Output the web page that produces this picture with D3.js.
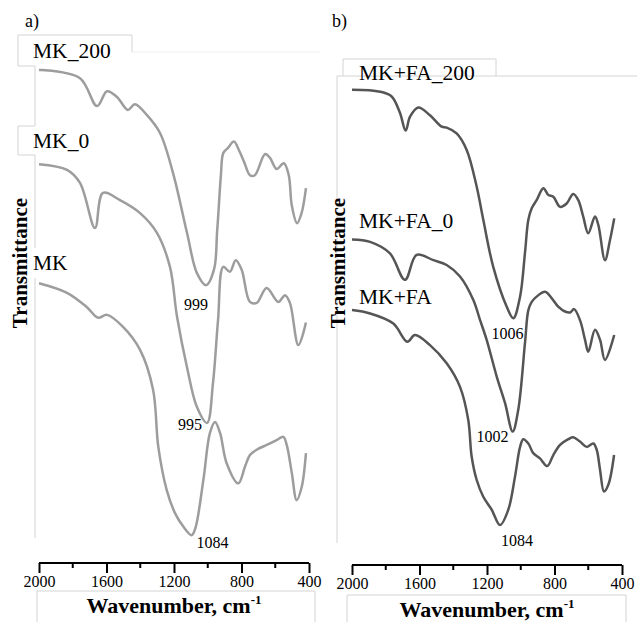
<!DOCTYPE html>
<html>
<head>
<meta charset="utf-8">
<script src="https://cdn.jsdelivr.net/npm/d3@7"></script>
<style>
  body { margin: 0; background: #fff; }
  svg { display: block; font-family: "Liberation Serif", "Times New Roman", serif; }
</style>
</head>
<body>
<svg id="chart" width="637" height="622"></svg>
<script>
'use strict'
// FTIR spectra, [wavenumber, transmittance (a.u.)]
var mk200 = [[2000,97.9],[1982,97.9],[1757,96.2],[1656,90.4],[1597,93.5],[1538,92.3],[1473,89.6],[1431,90.8],[1360,88.5],[1283,84.8],[1206,76.5],[1123,64.0],[1064,55.6],[1010,53.1],[962,56.5],[945,64.0],[937,68.1],[922,76.0],[908,80.6],[880,81.7],[845,83.0],[815,81.2],[785,78.8],[750,76.0],[721,76.0],[660,80.4],[631,79.6],[592,77.3],[549,78.5],[520,76.0],[502,69.7],[471,66.0],[444,68.1],[418,73.3]];
var mk0 = [[2000,78.3],[1834,77.1],[1757,74.4],[1668,65.0],[1621,72.3],[1520,70.8],[1401,68.1],[1301,64.0],[1224,56.9],[1182,46.5],[1123,36.0],[1064,27.7],[1004,24.4],[969,32.7],[939,45.8],[908,56.9],[869,55.9],[834,58.3],[799,56.3],[750,49.6],[710,49.4],[651,52.5],[582,49.6],[542,51.0],[513,49.4],[463,40.6],[418,45.3]];
var mk = [[2000,53.5],[1834,51.5],[1716,48.5],[1650,46.3],[1597,46.9],[1502,44.4],[1401,39.6],[1324,31.3],[1293,19.4],[1243,10.4],[1194,5.6],[1145,2.8],[1095,1.0],[1073,2.5],[1026,12.5],[987,22.3],[957,24.6],[927,22.3],[888,16.0],[819,11.8],[779,15.3],[750,17.7],[710,18.8],[651,19.8],[592,20.8],[552,21.5],[532,19.8],[502,14.0],[473,8.3],[443,11.1],[418,18.1]];

var mkfa200 = [[2000,93.8],[1834,93.4],[1765,92.4],[1716,89.0],[1682,85.3],[1656,88.2],[1607,90.1],[1538,88.5],[1468,86.1],[1439,85.9],[1380,84.7],[1321,81.3],[1261,73.6],[1222,66.7],[1163,56.9],[1083,48.6],[1044,46.2],[1004,50.7],[975,59.8],[955,66.7],[935,69.1],[906,70.8],[866,73.3],[837,71.9],[807,71.5],[767,69.4],[728,70.1],[689,72.1],[659,70.8],[630,67.4],[600,63.9],[560,67.4],[540,65.6],[501,58.3],[471,62.5],[446,67.0]];
var mkfa0 = [[2000,62.6],[1893,62.1],[1775,59.7],[1686,54.2],[1617,59.4],[1518,58.3],[1439,57.3],[1360,54.9],[1281,50.0],[1241,45.8],[1202,41.7],[1142,34.0],[1093,28.5],[1048,22.6],[1015,27.1],[975,41.0],[955,47.9],[935,49.6],[906,50.7],[856,51.7],[817,50.4],[778,48.6],[738,47.6],[708,47.4],[684,48.1],[649,45.8],[619,41.7],[600,39.2],[560,43.8],[530,41.7],[501,37.5],[446,42.7]];
var mkfa = [[2000,47.9],[1893,47.2],[1755,45.1],[1672,41.3],[1627,42.7],[1538,40.6],[1439,36.8],[1360,31.9],[1311,25.0],[1291,17.4],[1261,12.5],[1222,9.0],[1172,6.3],[1123,3.1],[1074,6.3],[1034,13.2],[1004,19.4],[985,21.0],[955,20.1],[926,18.1],[886,17.0],[843,15.4],[807,17.7],[767,19.8],[718,21.0],[689,21.4],[649,20.5],[609,19.4],[570,20.1],[550,18.8],[530,14.6],[507,10.1],[481,11.5],[447,17.7]];

var majorTicks = [2000, 1600, 1200, 800, 400];
var minorTicks = [1800, 1400, 1000, 600];

var svg = d3.select("#chart");

var panels = [
  { tag: "a)", tagX: 25, x0: 39, x1: 309, axisY: 563, color: "#9d9d9d",
    series: [mk200, mk0, mk],
    names: ["MK_200", "MK_0", "MK"],
    nameX: 33, nameY: [58, 148, 270],
    notes: [["999", 1070, 47.9], ["995", 1105, 22.9], ["1084", 972, -1.7]],
    yLabelX: 27, titleY: 613 },
  { tag: "b)", tagX: 332, x0: 352, x1: 622, axisY: 565, color: "#555555",
    series: [mkfa200, mkfa0, mkfa],
    names: ["MK+FA_200", "MK+FA_0", "MK+FA"],
    nameX: 359, nameY: [80, 228, 304],
    notes: [["1006", 1079, 41.9], ["1002", 1167, 20.4], ["1084", 1022, -1.25]],
    yLabelX: 345, titleY: 617 }
];

var y = d3.scaleLinear().domain([0, 100]).range([540, 60]);

// faint frame leftovers from the pasted figure
var frames = [
  "M35,66H18V35H132V52", "M35,66V126", "M35,155V248", "M35,278V538", "M35,126H18V155H35",
  "M343,76V59H496V76", "M637,76H337V543",
  "M37,591H315V622", "M37,591V622", "M347,595H626V622", "M347,595V622"
];
svg.append("g").selectAll("path").data(frames).enter().append("path")
  .attr("d", function (d) { return d; })
  .attr("fill", "none")
  .attr("stroke", "#d4d4d4")
  .attr("stroke-width", 1);
svg.append("path").attr("d", "M132,52H320").attr("stroke", "#f0f0f0").attr("fill", "none");

panels.forEach(function (p) {
  var x = d3.scaleLinear().domain([2000, 400]).range([p.x0, p.x1]);
  var line = d3.line()
    .x(function (d) { return x(d[0]); })
    .y(function (d) { return y(d[1]); })
    .curve(d3.curveCatmullRom.alpha(0.5));

  var g = svg.append("g");

  g.selectAll("path.spec").data(p.series).enter().append("path")
    .attr("class", "spec")
    .attr("d", line)
    .attr("fill", "none")
    .attr("stroke", p.color)
    .attr("stroke-width", 2.5)
    .attr("stroke-linejoin", "round");

  g.append("text").text(p.tag)
    .attr("x", p.tagX).attr("y", 27)
    .attr("font-size", 18);

  g.selectAll("text.name").data(p.names).enter().append("text")
    .attr("class", "name")
    .attr("x", p.nameX)
    .attr("y", function (d, i) { return p.nameY[i]; })
    .attr("font-size", 21.5)
    .text(function (d) { return d; });

  g.selectAll("text.note").data(p.notes).enter().append("text")
    .attr("class", "note")
    .attr("x", function (d) { return x(d[1]); })
    .attr("y", function (d) { return y(d[2]); })
    .attr("text-anchor", "middle")
    .attr("font-size", 16)
    .text(function (d) { return d[0]; });

  // axis
  var axis = g.append("g").attr("transform", "translate(0," + p.axisY + ")")
    .call(d3.axisBottom(x).tickValues(majorTicks).tickSize(10).tickPadding(3).tickFormat(d3.format("d")));
  axis.select(".domain").attr("stroke-width", 2).attr("d", "M" + p.x0 + ",0H" + p.x1);
  axis.selectAll(".tick line").attr("stroke-width", 2);
  axis.selectAll(".tick text").attr("font-size", 16).attr("font-family", "Liberation Serif, serif");
  g.append("g").attr("transform", "translate(0," + p.axisY + ")")
    .selectAll("line").data(minorTicks).enter().append("line")
    .attr("x1", x).attr("x2", x).attr("y1", 0).attr("y2", 5)
    .attr("stroke", "#000").attr("stroke-width", 2);

  var title = g.append("text")
    .attr("x", (p.x0 + p.x1) / 2).attr("y", p.titleY)
    .attr("text-anchor", "middle")
    .attr("font-size", 22).attr("font-weight", "bold");
  title.append("tspan").text("Wavenumber, cm");
  title.append("tspan").text("-1").attr("font-size", 13).attr("dy", -9);

  g.append("text").text("Transmittance")
    .attr("transform", "translate(" + p.yLabelX + ",263) rotate(-90)")
    .attr("text-anchor", "middle")
    .attr("font-size", 21).attr("font-weight", "bold");
});
</script>
</body>
</html>
